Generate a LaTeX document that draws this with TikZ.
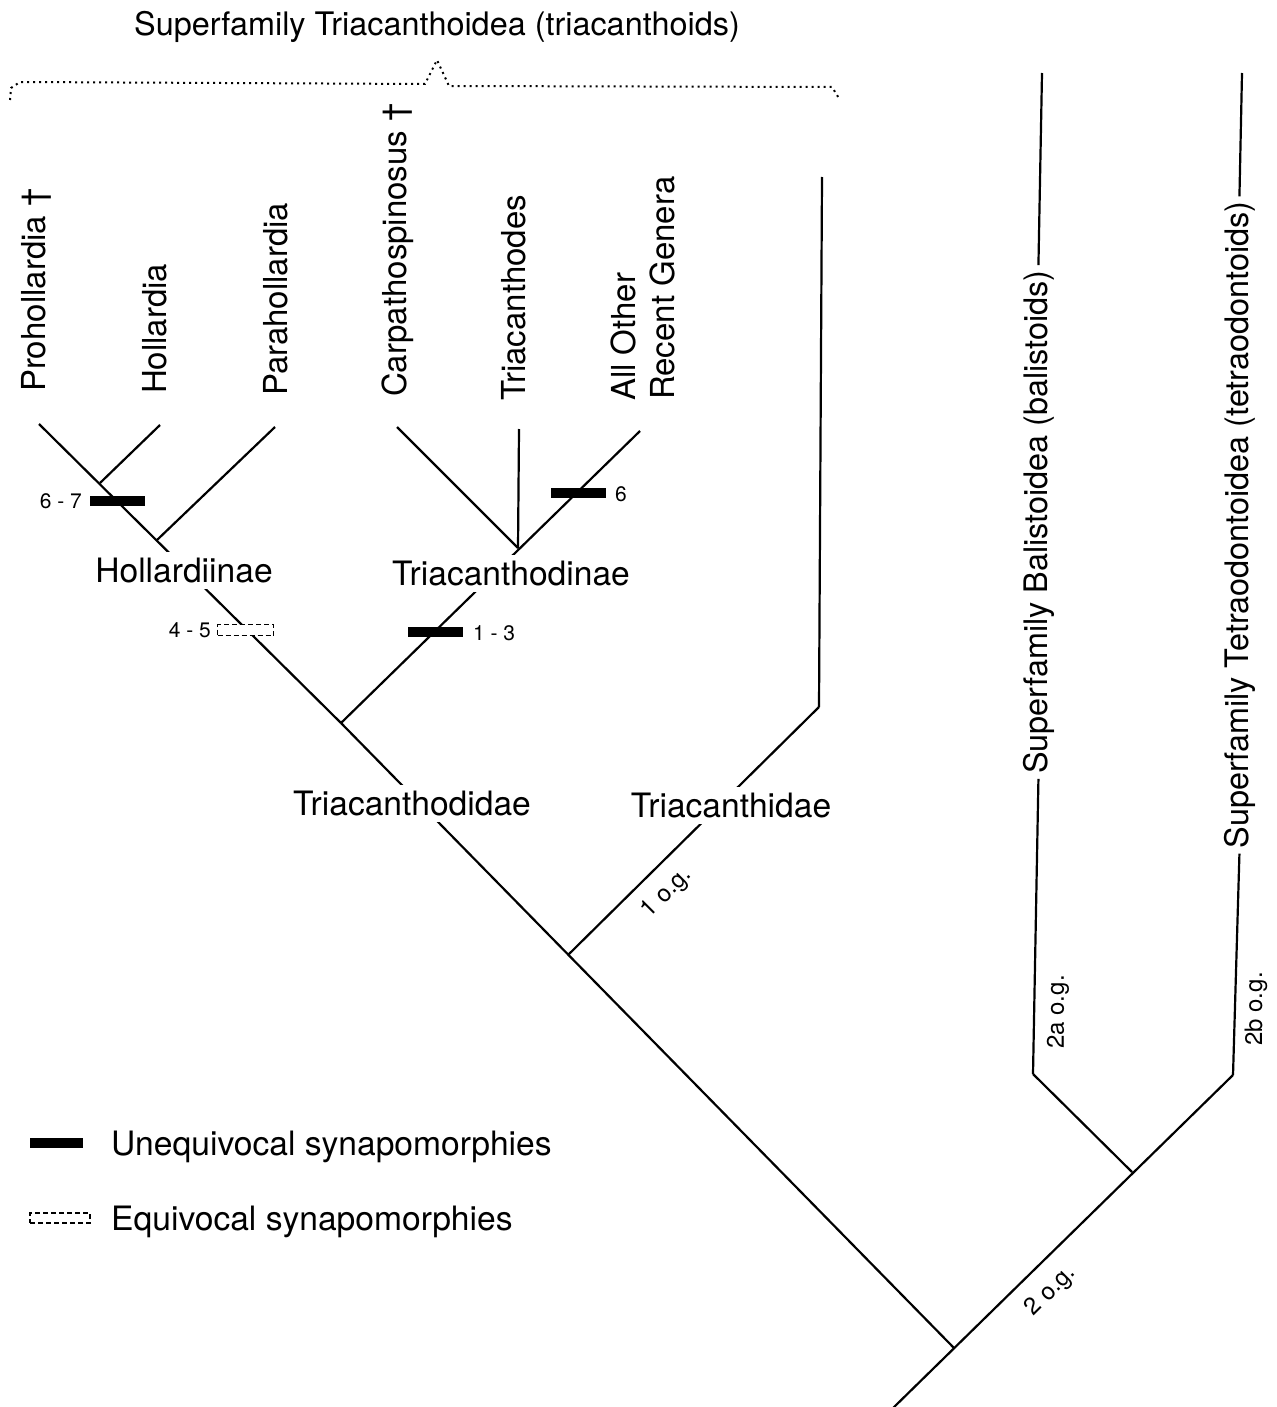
\documentclass[tikz,border=0pt]{standalone}
\usepackage{fontspec}
\setmainfont{TeX Gyre Heros}
\usepackage{tikz}
\usetikzlibrary{positioning}
\tikzset{
  taxon/.style={rotate=90,anchor=base west,inner sep=0pt,font=\fontsize{16.5}{20}\selectfont},
  group/.style={fill=white,anchor=base,inner sep=3pt,font=\fontsize{16.8}{20}\selectfont},
  superfam/.style={rotate=90,anchor=base,inner sep=2pt,font=\fontsize{16.2}{20}\selectfont},
  small/.style={inner sep=0pt,font=\fontsize{10.5}{12}\selectfont},
  og/.style={inner sep=0pt,font=\fontsize{12}{14}\selectfont},
  unbar/.style={fill=black,minimum width=27.5pt,minimum height=5pt,inner sep=0pt},
  eqbar/.style={draw,fill=white,line width=0.75pt,dash pattern=on 2.5pt off 1.5pt,minimum width=28pt,minimum height=5.5pt,inner sep=0pt},
  brace/.style={line width=1pt,dash pattern=on 1pt off 2pt},
}

\begin{document}
\begin{tikzpicture}[x=0.5pt,y=-0.5pt,line width=1.1pt]
	\useasboundingbox (0,0) rectangle (1276,1407);

	\node[font=\fontsize{16.2}{20}\selectfont, anchor=base] (title) at (437,36) {Superfamily Triacanthoidea (triacanthoids)};
	\draw[brace] (10,100) -- (11,88) -- (20,82) -- (425,84) -- (437,60) -- (449,86) -- (832,87) -- (840,100);

	\coordinate (protip) at (39,424);
	\coordinate (holtip) at (160,425);
	\coordinate (partip) at (275,427);
	\coordinate (cartip) at (397,427);
	\coordinate (tritip) at (519,429);
	\coordinate (alltip) at (640,431);
	\coordinate (j1) at (100,483);
	\coordinate (h) at (157,540);
	\coordinate (c) at (518,548);
	\coordinate (t) at (341,723);
	\coordinate (a) at (568,955);
	\coordinate (acbend) at (819,707);
	\coordinate (actop) at (822,177);
	\coordinate (r) at (954,1348);
	\coordinate (base) at (891,1410);
	\coordinate (b) at (1132,1172);
	\coordinate (balbend) at (1033,1074);
	\coordinate (baltop) at (1042,73);
	\coordinate (tetbend) at (1233,1075);
	\coordinate (tettop) at (1242,73);

	\path[draw]
	(protip) edge (t)
	(holtip) edge (j1)
	(partip) edge (h)
	(cartip) edge (c)
	(tritip) edge (c)
	(alltip) edge (t)
	(t) edge (r)
	(a) edge (acbend)
	(acbend) edge (actop)
	(base) edge (tetbend)
	(b) edge (balbend);

	\node[superfam] (bal) at (1047,522) {Superfamily Balistoidea (balistoids)};
	\node[superfam] (tet) at (1248,525) {Superfamily Tetraodontoidea (tetraodontoids)};
	\draw (balbend) -- (bal.west);
	\draw (bal.east) -- (baltop);
	\draw (tetbend) -- (tet.west);
	\draw (tet.east) -- (tettop);

	\node[taxon] (pro) at (45,393) {Prohollardia †};
	\node[taxon] (hol) at (166,395) {Hollardia};
	\node[taxon] (par) at (287,397) {Parahollardia};
	\node[taxon] (car) at (406,398) {Carpathospinosus †};
	\node[taxon] (tri) at (525,402) {Triacanthodes};
	\node[taxon] (allo) at (635,402) {All Other};
	\node[taxon] (rec) at (674,401) {Recent Genera};

	\node[group] (hollardiinae) at (184,582) {Hollardiinae};
	\node[group] (triacanthodinae) at (511,585) {Triacanthodinae};
	\node[group] (triacanthodidae) at (412,815) {Triacanthodidae};
	\node[group] (triacanthidae) at (731,817) {Triacanthidae};

	\node[unbar] (bar67) at (117,501) {};
	\node[small, anchor=east] (l67) at (83,501) {6 - 7};
	\node[unbar] (bar6) at (578,493) {};
	\node[small, anchor=west] (l6) at (614,494) {6};
	\node[unbar] (bar13) at (435,632) {};
	\node[small, anchor=west] (l13) at (472,633) {1 - 3};
	\node[eqbar] (bar45) at (245.5,630) {};
	\node[small, anchor=east] (l45) at (212,630) {4 - 5};

	\node[og, rotate=45] (og1) at (667,893) {1 o.g.};
	\node[og, rotate=45] (og2) at (1051,1291) {2 o.g.};
	\node[og, rotate=90] (og2a) at (1058,1012) {2a o.g.};
	\node[og, rotate=90] (og2b) at (1256,1009) {2b o.g.};

	\node[unbar, minimum width=26.5pt] (legun) at (56.5,1143) {};
	\node[font=\fontsize{16.8}{20}\selectfont, anchor=base west, inner sep=0pt] (leguntext) at (110,1155) {Unequivocal synapomorphies};
	\node[eqbar, minimum width=30pt, minimum height=5pt] (legeq) at (60,1218) {};
	\node[font=\fontsize{16.8}{20}\selectfont, anchor=base west, inner sep=0pt] (legeqtext) at (110,1230) {Equivocal synapomorphies};
\end{tikzpicture}
\end{document}
